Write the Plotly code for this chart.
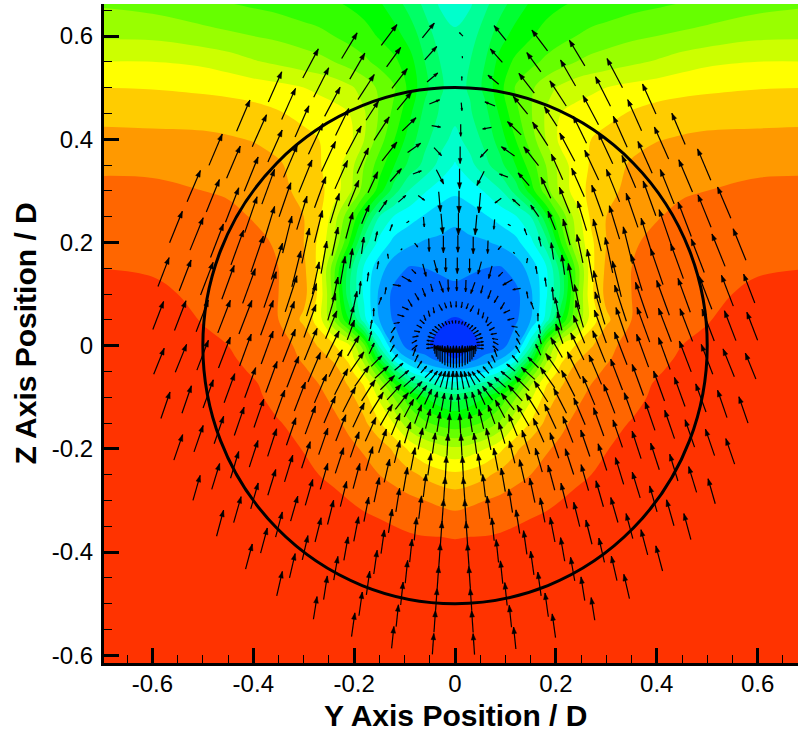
import math
import plotly.graph_objects as go

# ---- colour field (band index per grid node, right half y >= 0) ----
FIELD_Y = [0, .03, .06, .09, .12, .15, .18, .21, .24, .27, .3, .35, .4, .45, .5, .6, .72]
FIELD_Z = [.67, .6, .55, .5, .45, .4, .35, .3, .25, .2, .15, .1, .05, 0, -.025, -.05, -.075, -.1, -.15, -.2, -.25,
           -.3, -.35, -.4, -.5, -.63]
FIELD = [
    [5.6, 6.3, 7.2, 8.0, 8.8, 9.5, 10.0, 10.3, 10.5, 10.6, 10.7, 11.0, 11.2, 11.4, 11.6, 12.0, 12.3],
    [6.8, 7.1, 8.0, 9.1, 9.9, 10.4, 10.9, 11.2, 11.5, 11.8, 12.0, 12.3, 12.5, 12.7, 12.9, 13.3, 13.35],
    [7.1, 7.5, 8.5, 9.9, 10.7, 11.2, 11.7, 12.1, 12.5, 12.8, 13.0, 13.3, 13.6, 14.0, 14.3, 14.5, 14.5],
    [7.2, 7.6, 8.8, 10.2, 11.6, 12.3, 13.1, 13.7, 14.1, 14.3, 14.5, 14.8, 15.0, 15.2, 15.3, 15.45, 15.5],
    [6.8, 7.4, 8.2, 9.7, 11.2, 12.4, 13.6, 14.5, 14.8, 15.0, 15.2, 15.6, 15.9, 16.0, 16.1, 16.15, 16.2],
    [6.2, 6.9, 7.8, 9.0, 10.5, 12.0, 13.5, 14.8, 15.2, 15.5, 15.8, 16.2, 16.45, 16.6, 16.7, 16.75, 16.8],
    [5.4, 6.2, 7.2, 8.2, 9.5, 11.0, 12.5, 14.0, 15.0, 15.6, 16.1, 16.6, 16.9, 17.1, 17.2, 17.3, 17.35],
    [4.7, 5.0, 5.6, 6.4, 7.9, 10.0, 12.0, 13.8, 15.0, 15.8, 16.3, 16.7, 17.1, 17.4, 17.5, 17.7, 17.7],
    [3.7, 4.0, 4.4, 4.9, 5.4, 6.5, 9.2, 11.8, 14.0, 15.7, 16.5, 17.1, 17.45, 17.7, 17.9, 17.95, 17.95],
    [3.2, 3.3, 3.4, 3.7, 4.2, 5.2, 7.0, 10.5, 13.5, 15.3, 16.5, 17.4, 17.7, 18.0, 18.1, 18.2, 18.2],
    [2.7, 2.6, 2.5, 2.4, 2.9, 3.9, 5.3, 8.0, 11.8, 15.2, 16.7, 17.5, 17.8, 18.1, 18.2, 18.4, 18.5],
    [2.3, 2.2, 2.1, 2.0, 2.2, 3.3, 5.3, 7.7, 12.0, 15.3, 16.8, 17.5, 17.9, 18.2, 18.3, 18.7, 18.8],
    [1.4, 1.6, 1.7, 1.9, 2.3, 3.5, 5.8, 9.5, 12.5, 15.0, 16.3, 17.5, 18.0, 18.3, 18.45, 19.0, 19.2],
    [1.1, 1.3, 1.6, 2.0, 3.3, 6.3, 11.8, 14.7, 15.6, 16.4, 17.2, 17.9, 18.2, 18.5, 18.7, 19.4, 19.6],
    [1.5, 2.0, 2.9, 3.4, 5.0, 8.8, 13.0, 15.2, 16.3, 17.0, 17.4, 17.9, 18.3, 18.6, 18.9, 19.6, 19.8],
    [3.9, 4.1, 4.4, 5.5, 8.0, 11.5, 14.2, 15.9, 16.9, 17.3, 17.6, 18.0, 18.4, 18.8, 19.2, 19.8, 20],
    [5.9, 6.2, 7.0, 8.2, 10.6, 13.4, 15.4, 16.4, 17.1, 17.5, 17.8, 18.1, 18.6, 19.0, 19.4, 19.9, 20],
    [8.0, 8.6, 9.5, 10.7, 12.4, 14.3, 15.9, 16.8, 17.3, 17.7, 18.0, 18.2, 18.7, 19.2, 19.6, 20, 20],
    [10.8, 11.1, 11.7, 12.7, 14.4, 15.6, 16.7, 17.3, 17.7, 18.0, 18.2, 18.55, 19.1, 19.5, 19.8, 20, 20],
    [13.7, 14.0, 14.5, 15.3, 16.3, 17.1, 17.4, 17.7, 18.0, 18.2, 18.45, 18.9, 19.4, 19.8, 20, 20, 20],
    [15.7, 15.9, 16.3, 16.8, 17.2, 17.5, 17.8, 18.1, 18.3, 18.5, 18.8, 19.3, 19.7, 20, 20, 20, 20],
    [17.1, 17.3, 17.5, 17.7, 17.9, 18.0, 18.2, 18.5, 18.7, 19.0, 19.2, 19.6, 19.9, 20, 20, 20, 20],
    [18.1, 18.15, 18.2, 18.3, 18.5, 18.7, 18.9, 19.1, 19.3, 19.6, 19.8, 20, 20, 20, 20, 20, 20],
    [18.9, 19.0, 19.0, 19.1, 19.2, 19.3, 19.5, 19.7, 19.9, 20, 20, 20, 20, 20, 20, 20, 20],
    [20] * 17,
    [20] * 17,
]
BAND_COLORS = ["#0033ff", "#0066ff", "#0099ff", "#00ccff", "#00ffff", "#00ffcc", "#00ff99", "#00ff66", "#00ff33",
               "#00ff00", "#33ff00", "#66ff00", "#99ff00", "#ccff00", "#ffff00", "#ffcc00", "#ff9900", "#ff6600",
               "#ff3300"]

# ---- measurement rake: tails sit on rings and rays ----
RINGS = [.043, .086, .129, .171, .214, .257, .3, .343, .386, .429, .471, .514, .557, .6]
RAYS_RIGHT = [3.7, 11.6, 19.4, 27.5, 35.2, 43.3, 51.2, 59.3, 67.5, 75.5, 83.8, 91, 97.9, 106, 114.3, 122.3, 130.5,
              138.4, 146.4, 154.6, 162.2, 170.3, 178.5]
RAYS_LEFT = [4.3, 12.1, 20, 27.9, 36.1, 43.8, 52, 60, 68.3, 76.4, 84.7, 93, 101, 109.4, 117.7, 125.6, 133.8, 141.9,
             149.8, 158, 165.9, 173.8]
# arrow size per ray (rows) and ring (columns)
SPEED = [
    [22, 19, 18, 20, 22, 22, 23, 23, 23, 23, 22, 22, 22, 21],
    [21, 18, 18, 20, 21, 22, 23, 23, 23, 23, 23, 23, 22, 22],
    [21, 17, 17, 20, 22, 23, 24, 24, 24, 24, 24, 24, 24, 24],
    [19, 15, 17, 20, 22, 23, 24, 25, 25, 25, 24, 24, 24, 23],
    [18, 13, 17, 20, 23, 25, 25, 26, 26, 25, 25, 25, 25, 25],
    [16, 11, 17, 21, 24, 26, 27, 27, 27, 27, 26, 26, 26, 26],
    [14, 9, 15, 21, 25, 27, 28, 28, 28, 28, 27, 27, 27, 27],
    [11, 8, 13, 20, 25, 28, 29, 30, 29, 29, 28, 28, 27, 26],
    [8, 8, 11, 18, 25, 29, 31, 31, 31, 30, 30, 29, 28, 27],
    [6, 8, 9, 15, 24, 30, 32, 33, 33, 32, 31, 30, 29, 28],
    [7, 7, 8, 12, 23, 30, 34, 35, 35, 34, 33, 32, 30, 28],
    [7, 6, 7, 10, 21, 30, 35, 37, 37, 36, 35, 34, 32, 30],
    [7, 6, 7, 9, 19, 28, 34, 38, 38, 37, 36, 35, 33, 31],
    [7, 6, 6, 8, 18, 25, 33, 37, 38, 38, 37, 36, 35, 34],
    [7, 6, 7, 8, 13, 28, 33, 36, 38, 38, 38, 37, 35, 34],
    [6, 6, 7, 7, 9, 20, 29, 33, 35, 36, 37, 37, 35, 34],
    [6, 6, 8, 8, 8, 17, 27, 31, 33, 35, 35, 35, 35, 34],
    [5, 6, 8, 11, 5, 10, 20, 28, 31, 33, 34, 34, 34, 33],
    [4, 6, 9, 6, 2, 7, 14, 23, 28, 32, 30, 33, 33, 33],
    [4, 7, 8, 13, 5, 3, 10, 17, 24, 28, 23, 30, 30, 30],
    [3, 6, 12, 13, 13, 10, 8, 9, 16, 19, 23, 25, 24, 26],
    [3, 6, 12, 14, 17, 20, 20, 16, 11, 9, 11, 14, 18, 19],
    [3, 6, 12, 16, 17, 22, 22, 20, 17, 12, 8, 4, 2, 5],
]
# arrow direction in degrees from straight up, positive leaning towards the centre line
BEARING = [
    [0, 4, 4, 3, 3, 3, 4, 4, 4, 4, 4, 4, 4, 4],
    [0, 10, 10, 9, 8, 8, 7, 7, 6, 6, 6, 6, 6, 6],
    [0, 18, 16, 14, 12, 11, 10, 9, 9, 8, 8, 8, 8, 8],
    [0, 28, 25, 20, 16, 14, 13, 12, 11, 11, 10, 10, 9, 9],
    [0, 38, 36, 28, 22, 18, 16, 15, 14, 14, 14, 13, 13, 13],
    [0, 45, 45, 38, 30, 24, 19, 18, 16, 16, 16, 15, 15, 15],
    [0, 40, 48, 42, 32, 25, 21, 19, 18, 17, 17, 16, 16, 15],
    [0, 32, 50, 45, 33, 27, 23, 20, 19, 18, 18, 17, 17, 16],
    [0, 25, 50, 48, 35, 27, 23, 21, 20, 19, 19, 19, 19, 19],
    [5, 20, 40, 45, 35, 26, 23, 21, 20, 20, 20, 20, 19, 19],
    [-96, 50, 30, 25, 30, 26, 22, 21, 20, 20, 21, 21, 22, 22],
    [-89, 60, 30, 15, 20, 22, 20, 19, 20, 21, 21, 21, 21, 21],
    [-82, 80, 35, 10, 14, 16, 17, 18, 19, 20, 20, 21, 21, 21],
    [-74, 100, 80, 0, 12, 12, 12, 14, 17, 19, 20, 21, 22, 22],
    [-66, 120, 105, 20, 5, 10, 10, 12, 14, 17, 19, 21, 22, 23],
    [-58, 130, 115, 10, 8, 8, 12, 14, 17, 19, 20, 22, 23, 23],
    [-50, 160, 150, 100, 10, 8, 15, 17, 20, 22, 23, 24, 24, 23],
    [-42, 165, 150, 120, -10, 13, 22, 22, 24, 25, 25, 24, 24, 24],
    [-34, 170, 160, 135, 45, 20, 35, 25, 24, 28, 26, 28, 27, 28],
    [-26, 150, 165, 165, 140, 60, 48, 41, 38, 33, 33, 33, 30, 31],
    [-18, 160, 160, 165, 178, 175, 127, 70, 55, 46, 39, 38, 36, 37],
    [-10, 170, 178, 180, 180, 175, 175, 153, 137, 100, 68, 50, 42, 39],
    [-2, 180, 180, 180, 180, 180, 180, 180, 180, 180, 185, 0, 0, 45],
]

X_TICKS = [-.6, -.4, -.2, 0, .2, .4, .6]
Y_TICKS = [-.6, -.4, -.2, 0, .2, .4, .6]
TICK_TEXT = ["-0.6", "-0.4", "-0.2", "0", "0.2", "0.4", "0.6"]
X_RANGE = [-.696, .68]
Y_RANGE = [-.615, .662]
X_TITLE = "Y Axis Position / D"
Y_TITLE = "Z Axis Position / D"
W, H = 798, 731
ML, MR, MT, MB = 104, 0, 4, 68
PX_X = (W - ML - MR) / (X_RANGE[1] - X_RANGE[0])
PX_Y = (H - MT - MB) / (Y_RANGE[1] - Y_RANGE[0])

# ---- build full field by mirroring the half table ----
ys = [-v for v in FIELD_Y[:0:-1]] + FIELD_Y
zs = FIELD_Z[::-1]
zz = [row[:0:-1] + row for row in FIELD[::-1]]

n = len(BAND_COLORS)
scale = []
for i, c in enumerate(BAND_COLORS):
    scale.append([i / n, c])
    scale.append([(i + 1) / n, c])

fig = go.Figure()
fig.add_trace(go.Contour(
    x=ys, y=zs, z=zz, zauto=False, zmin=.5, zmax=19.5, colorscale=scale, showscale=False, hoverinfo="skip",
    autocontour=False, contours=dict(start=1.5, end=18.5, size=1, coloring="fill", showlines=False),
    line=dict(width=0, smoothing=1.0),
))

# ---- arrows ----
shaft_x, shaft_y, head_x, head_y = [], [], [], []


def add_arrow(theta, r, L, B, side):
    t = math.radians(theta)
    x0 = side * r * math.sin(t)
    y0 = -r * math.cos(t)
    b = math.radians(B)
    ux, uy = -side * math.sin(b), math.cos(b)
    x1 = x0 + ux * L / PX_X
    y1 = y0 + uy * L / PX_Y
    shaft_x.extend([x0, x1, None])
    shaft_y.extend([y0, y1, None])
    hl = min(6.5, L * .3)
    hw = hl * .36
    px, py = -uy, ux
    bx = x1 - ux * hl / PX_X
    by = y1 - uy * hl / PX_Y
    head_x.extend([x1, bx + px * hw / PX_X, bx - px * hw / PX_X, x1, None])
    head_y.extend([y1, by + py * hw / PX_Y, by - py * hw / PX_Y, y1, None])


for i, th in enumerate(RAYS_RIGHT):
    for j, r in enumerate(RINGS):
        add_arrow(th, r, SPEED[i][j], BEARING[i][j], 1)
for i, th in enumerate(RAYS_LEFT):
    for j, r in enumerate(RINGS):
        add_arrow(th, r, SPEED[i][j], BEARING[i][j], -1)

fig.add_trace(go.Scatter(x=shaft_x, y=shaft_y, mode="lines", line=dict(color="#000000", width=1.2),
                         hoverinfo="skip", showlegend=False))
fig.add_trace(go.Scatter(x=head_x, y=head_y, mode="lines", line=dict(color="#000000", width=.5), fill="toself",
                         fillcolor="#000000", hoverinfo="skip", showlegend=False))

fig.add_shape(type="circle", x0=-.5, x1=.5, y0=-.5, y1=.5, line=dict(color="#000000", width=3))

axis_common = dict(
    tickmode="array", ticktext=TICK_TEXT, ticks="inside", ticklen=15, tickwidth=3, tickcolor="#000000",
    showline=True, linecolor="#000000", linewidth=3, showgrid=False, zeroline=False, mirror=False,
    tickfont=dict(family="Liberation Sans", size=24, color="#000000"),
    minor=dict(ticks="inside", ticklen=8, tickwidth=1, tickcolor="#000000", tick0=0, dtick=.05, showgrid=False),
)
fig.update_xaxes(range=X_RANGE, tickvals=X_TICKS, ticklabelstandoff=-3, **axis_common)
fig.update_yaxes(range=Y_RANGE, tickvals=Y_TICKS, ticklabelstandoff=3, **axis_common)
title_font = dict(family="Liberation Sans", size=30, color="#000000", weight="bold")
fig.add_annotation(text=X_TITLE, xref="x", yref="paper", x=0, y=0, yshift=-52, xanchor="center", yanchor="middle",
                   showarrow=False, font=title_font)
fig.add_annotation(text=Y_TITLE, xref="paper", yref="paper", x=0, y=.5, xshift=-79, xanchor="center",
                   yanchor="middle", textangle=-90, showarrow=False, font=title_font)
fig.update_layout(width=W, height=H, autosize=False, margin=dict(l=ML, r=MR, t=MT, b=MB),
                  paper_bgcolor="#ffffff", plot_bgcolor="#ff3300", showlegend=False)
fig.write_html("out.html", config=dict(displayModeBar=False),
               post_script="document.body.style.margin='0';document.body.style.overflow='hidden';")
